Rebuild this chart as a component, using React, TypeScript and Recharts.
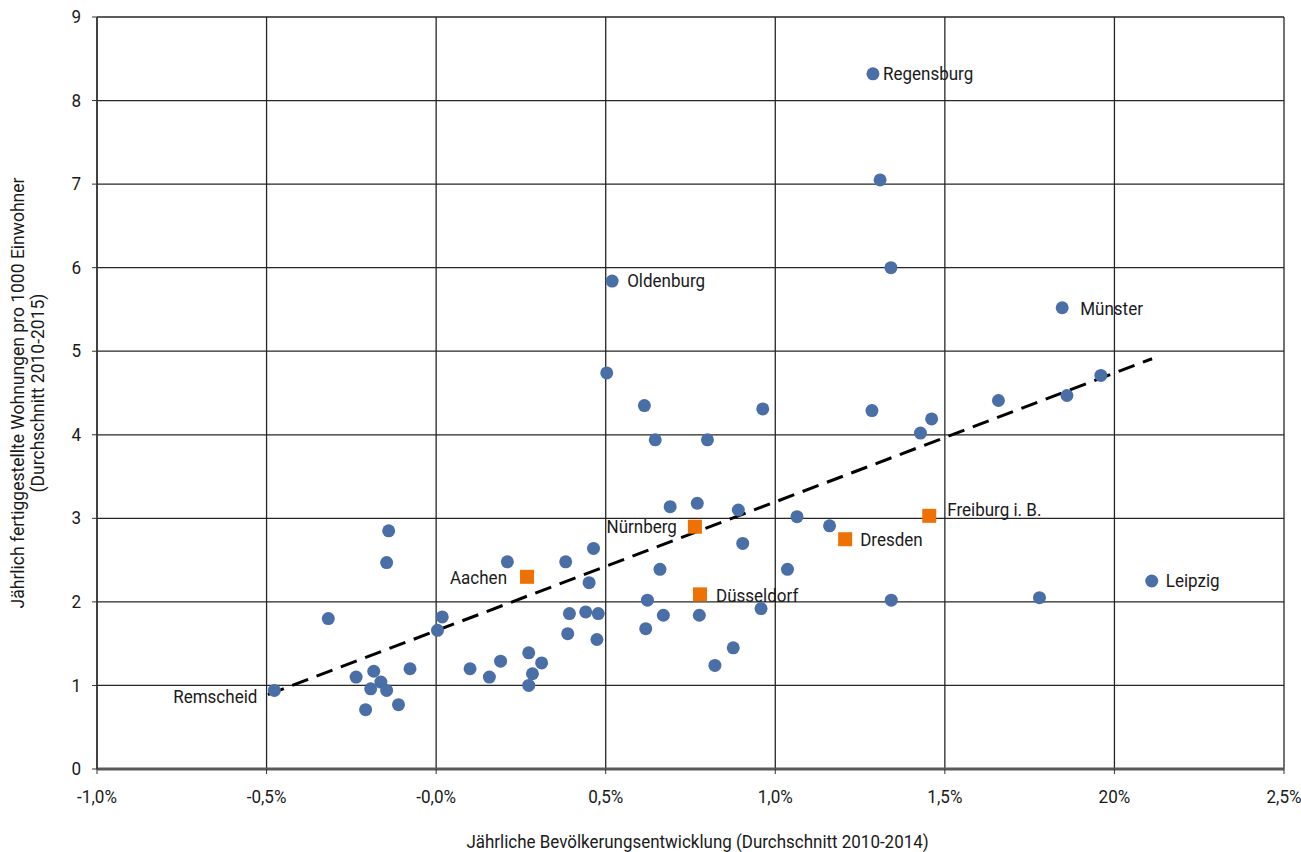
import React from "react";
import {
  ScatterChart,
  Scatter,
  XAxis,
  YAxis,
  CartesianGrid,
  ReferenceLine,
  Label,
} from "recharts";

// ---------- data ----------
const xTicks = [-1, -0.5, 0, 0.5, 1, 1.5, 2, 2.5];
const xTickLabels = ["-1,0%", "-0,5%", "-0,0%", "0,5%", "1,0%", "1,5%", "20%", "2,5%"];
const yTicks = [0, 1, 2, 3, 4, 5, 6, 7, 8, 9];

// unlabeled cities: [population growth %, dwellings per 1000 inhabitants]
const otherCities: [number, number][] = [
  [-0.318, 1.8], [-0.14, 2.85], [-0.146, 2.47], [-0.236, 1.1], [-0.184, 1.17],
  [-0.163, 1.04], [-0.193, 0.96], [-0.146, 0.94], [-0.208, 0.71], [-0.111, 0.77],
  [-0.077, 1.2], [0.018, 1.82], [0.004, 1.66], [0.21, 2.48], [0.1, 1.2],
  [0.157, 1.1], [0.19, 1.29], [0.273, 1.39], [0.311, 1.27], [0.284, 1.14],
  [0.273, 1.0], [0.382, 2.48], [0.464, 2.64], [0.451, 2.23], [0.393, 1.86],
  [0.441, 1.88], [0.478, 1.86], [0.388, 1.62], [0.474, 1.55], [0.69, 3.14],
  [0.77, 3.18], [0.891, 3.1], [0.904, 2.7], [0.66, 2.39], [0.623, 2.02],
  [0.67, 1.84], [0.776, 1.84], [0.618, 1.68], [0.958, 1.92], [0.876, 1.45],
  [0.822, 1.24], [0.503, 4.74], [0.614, 4.35], [0.646, 3.94], [0.8, 3.94],
  [0.963, 4.31], [1.285, 4.29], [1.461, 4.19], [1.428, 4.02], [1.658, 4.41],
  [1.86, 4.47], [1.96, 4.71], [1.064, 3.02], [1.16, 2.91], [1.036, 2.39],
  [1.342, 2.02], [1.779, 2.05], [1.309, 7.05], [1.341, 6.0],
];

const labeledBlueNames = ["Remscheid", "Regensburg", "Oldenburg", "Münster", "Leipzig"];
const labeledBlueX = [-0.477, 1.288, 0.519, 1.846, 2.11];
const labeledBlueY = [0.94, 8.32, 5.84, 5.52, 2.25];

const highlightNames = ["Aachen", "Nürnberg", "Düsseldorf", "Dresden", "Freiburg i. B."];
const highlightX = [0.268, 0.763, 0.778, 1.206, 1.454];
const highlightY = [2.3, 2.9, 2.09, 2.75, 3.03];

const trendX = [-0.496, 2.111];
const trendY = [0.89, 4.91];

const xTitle = "Jährliche Bevölkerungsentwicklung (Durchschnitt 2010-2014)";
const yTitleLines = [
  "Jährlich fertiggestellte Wohnungen pro 1000 Einwohner",
  "(Durchschnitt 2010-2015)",
];

// ---------- styles ----------
const FONT = "Roboto, 'DejaVu Sans Condensed', sans-serif";
const BLUE = "#4a6ea6";
const ORANGE = "#ee7203";
const TEXT = "#1a1a1a";

const labelPlacement: Record<string, { dx: number; dy: number; anchor: "start" | "end" }> = {
  Remscheid: { dx: -17, dy: 6, anchor: "end" },
  Regensburg: { dx: 10, dy: 0, anchor: "start" },
  Oldenburg: { dx: 15, dy: 0, anchor: "start" },
  "Münster": { dx: 18, dy: 1, anchor: "start" },
  Leipzig: { dx: 14, dy: 0, anchor: "start" },
  Aachen: { dx: -20, dy: 1, anchor: "end" },
  "Nürnberg": { dx: -18, dy: 0, anchor: "end" },
  "Düsseldorf": { dx: 16, dy: 1, anchor: "start" },
  Dresden: { dx: 15, dy: 1, anchor: "start" },
  "Freiburg i. B.": { dx: 18, dy: -6, anchor: "start" },
};

const otherData = otherCities.map(([x, y]) => ({ x, y, name: "" }));
const labeledBlueData = labeledBlueNames.map((name, i) => ({ x: labeledBlueX[i], y: labeledBlueY[i], name }));
const highlightData = highlightNames.map((name, i) => ({ x: highlightX[i], y: highlightY[i], name }));

// condensed text: real SVG text, horizontally squeezed to mimic a condensed face
const NText = ({
  x,
  y,
  anchor = "start",
  size = 18,
  rotate = 0,
  squeeze = 0.945,
  baseline = "central",
  children,
}: {
  x: number;
  y: number;
  anchor?: "start" | "middle" | "end";
  size?: number;
  rotate?: number;
  squeeze?: number;
  baseline?: string;
  children: React.ReactNode;
}) => (
  <text
    x={0}
    y={0}
    transform={`translate(${x} ${y}) rotate(${rotate}) scale(${squeeze} 1)`}
    textAnchor={anchor}
    dominantBaseline={baseline as any}
    fontFamily={FONT}
    fontSize={size}
    fill={TEXT}
  >
    {children}
  </text>
);

const PointLabel = ({ cx, cy, name }: { cx: number; cy: number; name: string }) => {
  const p = labelPlacement[name];
  if (!p) return null;
  return (
    <NText x={cx + p.dx} y={cy + p.dy} anchor={p.anchor}>
      {name}
    </NText>
  );
};

const BlueDot = (props: any) => {
  const { cx, cy, payload } = props;
  return (
    <g>
      <circle cx={cx} cy={cy} r={6.5} fill={BLUE} />
      {payload?.name ? <PointLabel cx={cx} cy={cy} name={payload.name} /> : null}
    </g>
  );
};

const OrangeSquare = (props: any) => {
  const { cx, cy, payload } = props;
  return (
    <g>
      <rect x={cx - 7} y={cy - 7} width={14} height={14} fill={ORANGE} />
      {payload?.name ? <PointLabel cx={cx} cy={cy} name={payload.name} /> : null}
    </g>
  );
};

const XTick = (props: any) => {
  const { x, y, payload } = props;
  const v = payload?.value;
  const label = xTickLabels[xTicks.indexOf(v)] ?? String(v);
  return (
    <NText x={x} y={y} anchor="middle" baseline="hanging" squeeze={0.95}>
      {label}
    </NText>
  );
};

const YTick = (props: any) => {
  const { x, y, payload } = props;
  return (
    <NText x={x} y={y} anchor="end" squeeze={0.95}>
      {String(payload?.value)}
    </NText>
  );
};

const XTitle = (props: any) => {
  const vb = props.viewBox || {};
  return (
    <NText
      x={vb.x + vb.width / 2 + 7}
      y={vb.y + vb.height - 4}
      anchor="middle"
      baseline="alphabetic"
      size={17.5}
      squeeze={0.97}
    >
      {xTitle}
    </NText>
  );
};

const YTitle = (props: any) => {
  const vb = props.viewBox || {};
  const cy = vb.y + vb.height / 2;
  return (
    <g>
      <NText x={vb.x + 18} y={cy} anchor="middle" rotate={-90} size={17.5} squeeze={1.0}>
        {yTitleLines[0]}
      </NText>
      <NText x={vb.x + 38} y={cy} anchor="middle" rotate={-90} size={17.5} squeeze={1.0}>
        {yTitleLines[1]}
      </NText>
    </g>
  );
};

export default function App() {
  return (
    <div style={{ position: "absolute", left: 0, top: 0, width: 1301, height: 852, background: "#fff" }}>
      <ScatterChart width={1301} height={852} margin={{ top: 17, right: 17, bottom: 0, left: 0 }}>
        <CartesianGrid stroke="#262626" strokeWidth={1.3} />
        <XAxis
          type="number"
          dataKey="x"
          domain={[-1, 2.5]}
          ticks={xTicks}
          interval={0}
          height={83}
          tickSize={5}
          tickMargin={16}
          axisLine={{ stroke: "#5a5a5a", strokeWidth: 3 }}
          tickLine={{ stroke: "#333" }}
          tick={<XTick />}
          allowDataOverflow
        >
          <Label content={<XTitle />} />
        </XAxis>
        <YAxis
          type="number"
          dataKey="y"
          domain={[0, 9]}
          ticks={yTicks}
          interval={0}
          width={97}
          tickSize={5}
          tickMargin={11}
          axisLine={{ stroke: "#333", strokeWidth: 1.5 }}
          tickLine={{ stroke: "#333" }}
          tick={<YTick />}
          allowDataOverflow
        >
          <Label content={<YTitle />} />
        </YAxis>
        <Scatter data={otherData} fill={BLUE} shape={BlueDot} isAnimationActive={false} />
        <Scatter data={labeledBlueData} fill={BLUE} shape={BlueDot} isAnimationActive={false} />
        <Scatter data={highlightData} fill={ORANGE} shape={OrangeSquare} isAnimationActive={false} />
        <ReferenceLine
          segment={[
            { x: trendX[0], y: trendY[0] },
            { x: trendX[1], y: trendY[1] },
          ]}
          stroke="#000"
          strokeWidth={3}
          strokeDasharray="17 9"
          ifOverflow="visible"
        />
      </ScatterChart>
    </div>
  );
}
